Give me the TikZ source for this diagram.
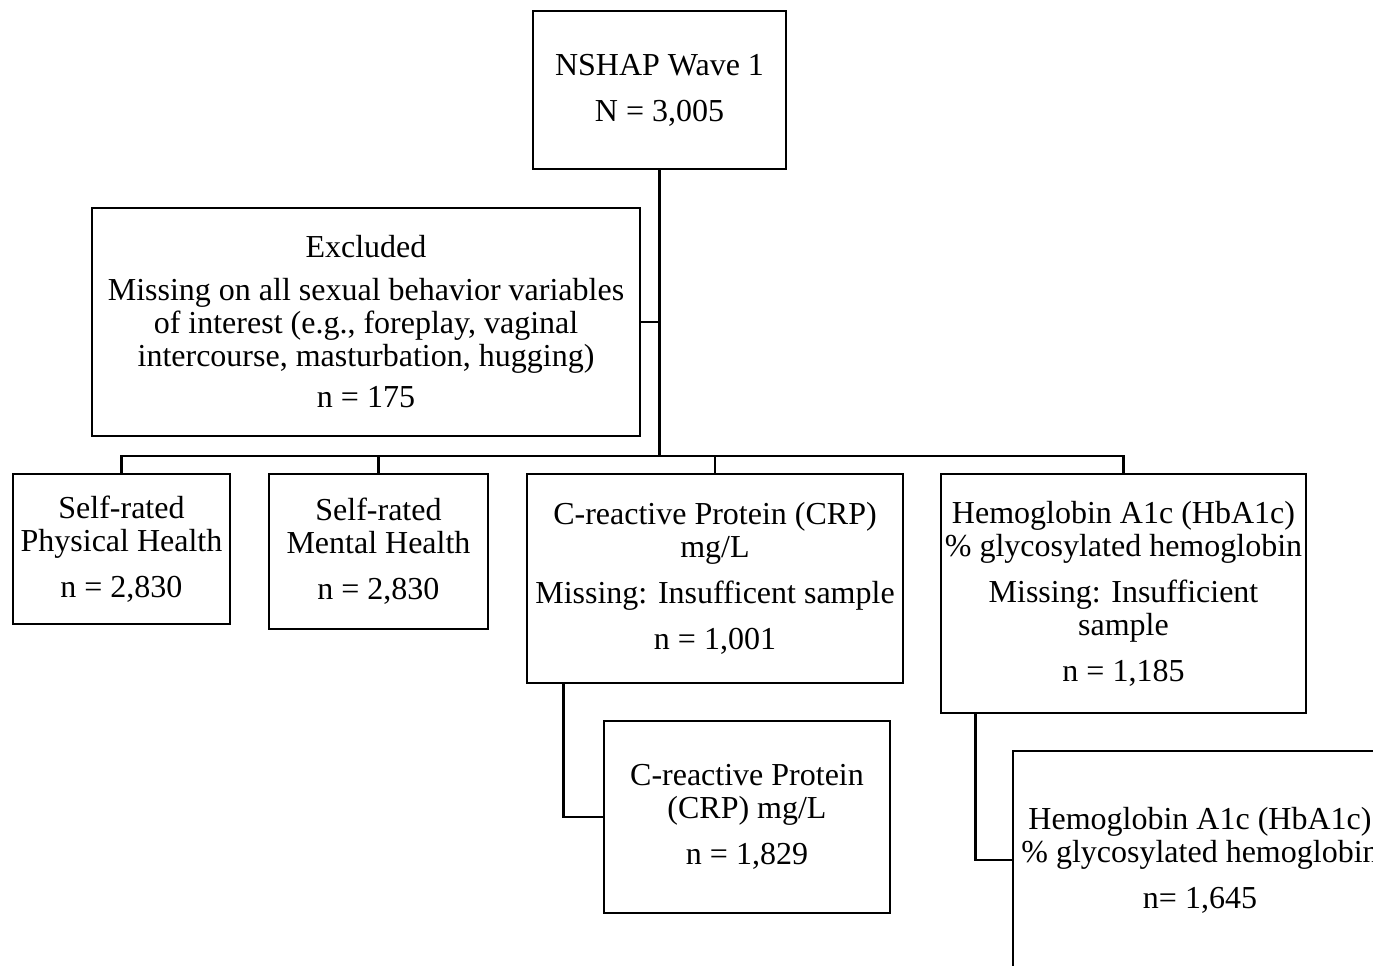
\documentclass[tikz,border=0pt]{standalone}
\usepackage{fontspec}
\setmainfont{Liberation Serif}
\begin{document}
\begin{tikzpicture}[x=1pt,y=-1pt,
  box/.style={draw, rectangle, line width=2.6pt, inner sep=0pt, align=center,
    font=\fontsize{32}{33}\selectfont},
  conn/.style={line width=2.6pt}]
\useasboundingbox (0,0) rectangle (1373,966);
\clip (0,0) rectangle (1373,966);
\fill[white] (0,0) rectangle (1373,966);

\node[box, minimum width=253pt, minimum height=158pt] (top) at (659.5,90)
  {NSHAP Wave 1\\[13pt]N = 3,005};
\node[box, minimum width=548pt, minimum height=228pt] (excl) at (366,322)
  {Excluded\\[10pt]Missing on all sexual behavior variables\\of interest (e.g., foreplay, vaginal\\intercourse, masturbation, hugging)\\[8pt]n = 175};
\node[box, minimum width=217pt, minimum height=150pt] (b1) at (121.5,549)
  {Self-rated\\Physical Health\\[13pt]n = 2,830};
\node[box, minimum width=219pt, minimum height=155pt] (b2) at (378.5,551.5)
  {Self-rated\\Mental Health\\[13pt]n = 2,830};
\node[box, minimum width=376pt, minimum height=209pt] (b3) at (715,578.5)
  {C-reactive Protein (CRP)\\mg/L\\[13pt]Missing: Insufficent sample\\[13pt]n = 1,001};
\node[box, minimum width=365pt, minimum height=239pt] (b4) at (1123.5,593.5)
  {Hemoglobin A1c (HbA1c)\\\% glycosylated hemoglobin\\[13pt]Missing: Insufficient\\sample\\[13pt]n = 1,185};
\node[box, minimum width=286pt, minimum height=192pt] (b5) at (747,817)
  {C-reactive Protein\\(CRP) mg/L\\[13pt]n = 1,829};
\node[box, minimum width=374pt, minimum height=218pt] (b6) at (1200,860)
  {Hemoglobin A1c (HbA1c)\\\% glycosylated hemoglobin\\[13pt]n= 1,645};

\coordinate (busy) at (0,456);
\draw[conn] (top.south) -- (top.south |- busy);
\draw[conn] (excl.east) -- (excl.east -| top.south);
\draw[conn] (b1.north) |- (b4.north |- busy) -- (b4.north);
\draw[conn] (b2.north) -- (b2.north |- busy);
\draw[conn] (b3.north) -- (b3.north |- busy);
\draw[conn] ([xshift=38pt]b3.south west) |- (b5.west);
\draw[conn] ([xshift=36pt]b4.south west) |- (b6.west);
\end{tikzpicture}
\end{document}
